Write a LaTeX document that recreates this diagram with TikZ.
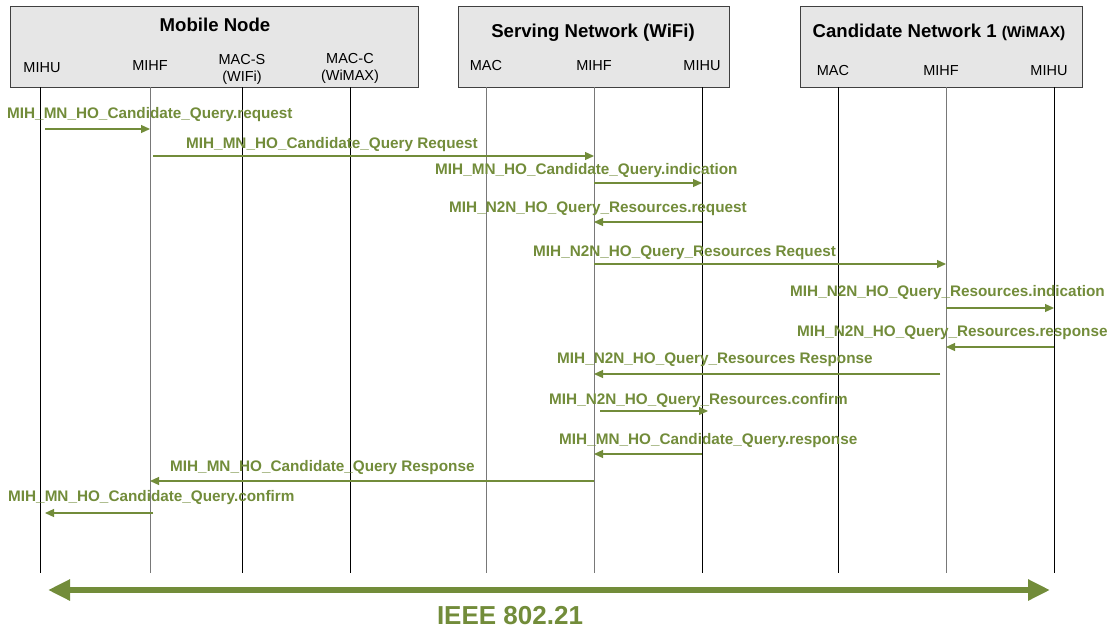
\documentclass[tikz,border=0pt]{standalone}
\usepackage{fontspec}
\setmainfont{Liberation Sans}
\usetikzlibrary{arrows.meta,calc}
\definecolor{msggreen}{RGB}{114,140,58}
\definecolor{boxfill}{RGB}{230,230,230}
\definecolor{boxline}{RGB}{64,64,64}
\definecolor{lifegray}{RGB}{120,120,120}

\tikzset{
  group/.style={draw=boxline, line width=1.2pt, fill=boxfill, anchor=north west, inner sep=0pt},
  grouptitle/.style={font=\bfseries\fontsize{18.6}{21}\selectfont, anchor=base, inner sep=0pt},
  entity/.style={font=\fontsize{14.5}{17}\selectfont, anchor=base, inner sep=0pt, align=center},
  life/.style={line width=1pt, black},
  lifeg/.style={line width=1pt, lifegray},
  msg/.style={draw=msggreen, line width=1.2pt, -{Triangle[length=9pt,width=8pt]}, fill=msggreen},
  lbl/.style={text=msggreen, font=\bfseries\fontsize{15.3}{17}\selectfont, anchor=base west, inner sep=0pt},
  span/.style={draw=msggreen, line width=6pt, {Triangle[length=22pt,width=20pt]}-{Triangle[length=22pt,width=20pt]}},
}

\begin{document}
\begin{tikzpicture}[x=1pt,y=-1pt]
\useasboundingbox (0,0) rectangle (1110,629);

% group boxes
\node[group, minimum width=408pt, minimum height=81pt] (mn) at (10,6) {};
\node[group, minimum width=271pt, minimum height=81pt] (sn) at (458,6) {};
\node[group, minimum width=282pt, minimum height=81pt] (cn) at (800,6) {};

\node[grouptitle] (mnT) at (215,31) {Mobile Node};
\node[grouptitle] (snT) at (593,37) {Serving Network (WiFi)};
\node[grouptitle] (cnT) at (939,37) {Candidate Network 1 {\fontsize{15.5}{17}\selectfont(WiMAX)}};

% entity names
\node[entity] (mnUl) at (42,72) {MIHU};
\node[entity] (mnFl) at (150,70) {MIHF};
\node[entity] (mnSl) at (242,81) {MAC-S\\(WIFi)};
\node[entity] (mnCl) at (350,80) {MAC-C\\(WiMAX)};
\node[entity] (snMl) at (486,70) {MAC};
\node[entity] (snFl) at (594,70) {MIHF};
\node[entity] (snUl) at (702,70) {MIHU};
\node[entity] (cnMl) at (833,75) {MAC};
\node[entity] (cnFl) at (941,75) {MIHF};
\node[entity] (cnUl) at (1049,75) {MIHU};

% lifelines
\foreach \n/\x in {mnU/40, mnF/150, mnS/242, mnC/350, snM/486, snF/594, snU/702, cnM/838, cnF/946, cnU/1054}{
  \coordinate (\n) at (\x,87);
  \coordinate (\n e) at (\x,573);
}
\foreach \n in {mnU, mnS, mnC, snU, cnM, cnU}{ \draw[life] (\n) -- (\n e); }
\foreach \n in {mnF, snM, snF, cnF}{ \draw[lifeg] (\n) -- (\n e); }

% message rows
\foreach \r/\y in {1/129, 2/156, 3/183, 4/222, 5/264, 6/308, 7/347, 8/374, 9/411, 10/454, 11/481, 12/513}{
  \coordinate (r\r) at (0,\y);
}

\node[lbl] (l1) at (7,118) {MIH\_MN\_HO\_Candidate\_Query.request};
\draw[msg] ($(mnU |- r1)+(5,0)$) -- (mnF |- r1);

\node[lbl] (l2) at (186,148) {MIH\_MN\_HO\_Candidate\_Query Request};
\draw[msg] ($(mnF |- r2)+(3,0)$) -- (snF |- r2);

\node[lbl] (l3) at (435,174.5) {MIH\_MN\_HO\_Candidate\_Query.indication};
\draw[msg] (snF |- r3) -- (snU |- r3);

\node[lbl] (l4) at (449,212.5) {MIH\_N2N\_HO\_Query\_Resources.request};
\draw[msg] (snU |- r4) -- (snF |- r4);

\node[lbl] (l5) at (533,256) {MIH\_N2N\_HO\_Query\_Resources Request};
\draw[msg] (snF |- r5) -- (cnF |- r5);

\node[lbl] (l6) at (790,296.5) {MIH\_N2N\_HO\_Query\_Resources.indication};
\draw[msg] (cnF |- r6) -- (cnU |- r6);

\node[lbl] (l7) at (797,336.5) {MIH\_N2N\_HO\_Query\_Resources.response};
\draw[msg] (cnU |- r7) -- (cnF |- r7);

\node[lbl] (l8) at (557,363.5) {MIH\_N2N\_HO\_Query\_Resources Response};
\draw[msg] ($(cnF |- r8)+(-6,0)$) -- (snF |- r8);

\node[lbl] (l9) at (549,404.5) {MIH\_N2N\_HO\_Query\_Resources.confirm};
\draw[msg] ($(snF |- r9)+(6,0)$) -- ($(snU |- r9)+(6,0)$);

\node[lbl] (l10) at (559,444.5) {MIH\_MN\_HO\_Candidate\_Query.response};
\draw[msg] (snU |- r10) -- (snF |- r10);

\node[lbl] (l11) at (170,471.5) {MIH\_MN\_HO\_Candidate\_Query Response};
\draw[msg] (snF |- r11) -- (mnF |- r11);

\node[lbl] (l12) at (8,501.5) {MIH\_MN\_HO\_Candidate\_Query.confirm};
\draw[msg] ($(mnF |- r12)+(3,0)$) -- ($(mnU |- r12)+(5,0)$);

% standard span
\coordinate (sL) at (48,590);
\coordinate (sR) at (1050,590);
\draw[span] (sL) -- (sR);
\node[text=msggreen, font=\bfseries\fontsize{26}{30}\selectfont, anchor=base, inner sep=0pt] (ieee) at (510,624) {IEEE 802.21};
\end{tikzpicture}
\end{document}
